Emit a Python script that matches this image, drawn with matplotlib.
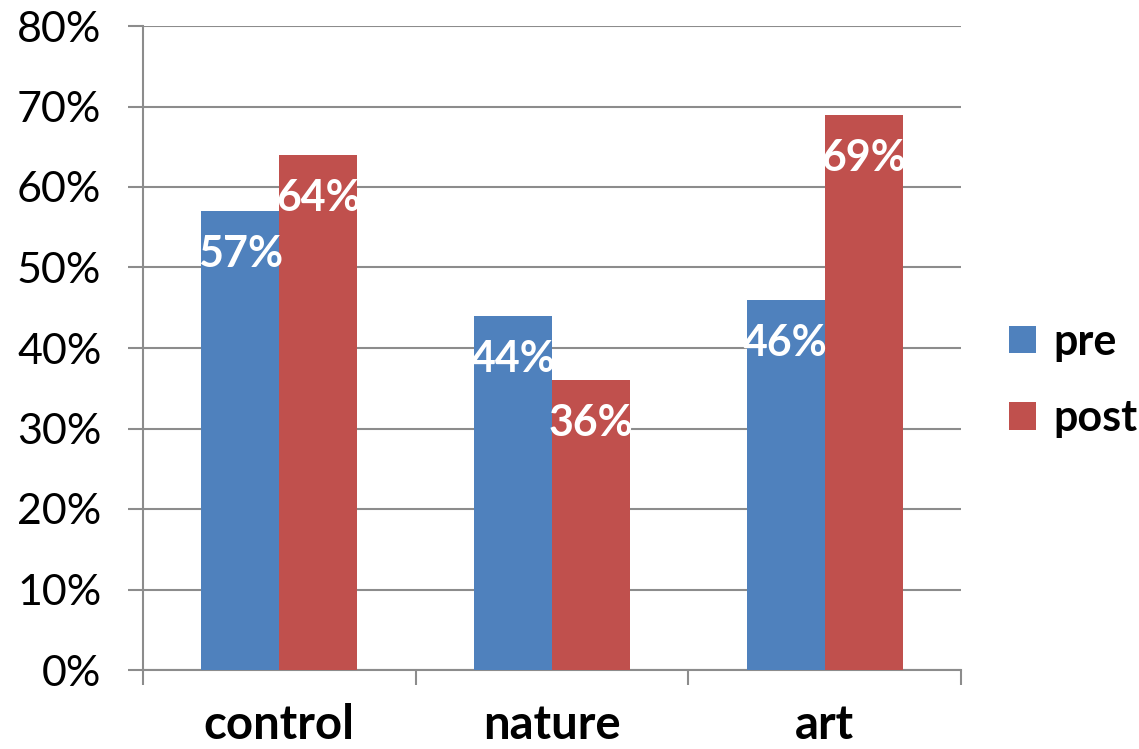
import matplotlib
matplotlib.use("Agg")
import matplotlib.pyplot as plt
import numpy as np
from matplotlib.ticker import FuncFormatter, FixedLocator

categories = ["control", "nature", "art"]
pre = [57, 44, 46]
post = [64, 36, 69]
series_names = ["pre", "post"]
colors = ["#4F81BD", "#C0504D"]

plt.rcParams["font.family"] = ["Lato", "DejaVu Sans"]

W, H = 1139, 749
fig = plt.figure(figsize=(W / 100, H / 100), dpi=100)
ax = fig.add_axes([143 / W, 1 - 670 / H, (961 - 143) / W, (670 - 26) / H])

x = np.arange(len(categories))
bw = 0.286
grid_c = "#8c8c8c"

for i, (vals, name, c) in enumerate(zip([pre, post], series_names, colors)):
    b = ax.bar(x + (i - 0.5) * bw, vals, width=bw, color=c, label=name, zorder=3)
    for rect, v in zip(b, vals):
        ax.annotate(f"{v}%", (rect.get_x() + rect.get_width() / 2, v),
                    xytext=(0, -31), textcoords="offset points",
                    ha="center", va="center", color="white",
                    fontsize=31, fontweight="bold", zorder=4)

ax.set_xlim(-0.5, len(categories) - 0.5)
ax.set_ylim(0, 80)
ax.yaxis.set_major_locator(FixedLocator(np.arange(0, 81, 10)))
ax.yaxis.set_major_formatter(FuncFormatter(lambda v, p: f"{int(v)}%"))
ax.grid(axis="y", color=grid_c, linewidth=1.5, zorder=0)
ax.tick_params(axis="y", length=11, width=1.5, color=grid_c, pad=19,
               labelsize=31)

ax.set_xticks(x)
ax.set_xticklabels(categories, fontsize=34, fontweight="bold")
ax.tick_params(axis="x", which="major", length=0, pad=24)
ax.set_xticks(np.arange(-0.5, len(categories), 1), minor=True)
ax.tick_params(axis="x", which="minor", length=11, width=1.5, color=grid_c)

for s in ["top", "right"]:
    ax.spines[s].set_visible(False)
for s in ["left", "bottom"]:
    ax.spines[s].set_color(grid_c)
    ax.spines[s].set_linewidth(1.5)

fig.legend(loc="center left", bbox_to_anchor=(1009 / W, 1 - 380 / H),
           frameon=False, borderpad=0, borderaxespad=0,
           handlelength=0.62, handleheight=0.62,
           labelspacing=0.85, handletextpad=0.4,
           prop={"size": 31, "weight": "bold"})

fig.savefig("out.png", dpi=100)
